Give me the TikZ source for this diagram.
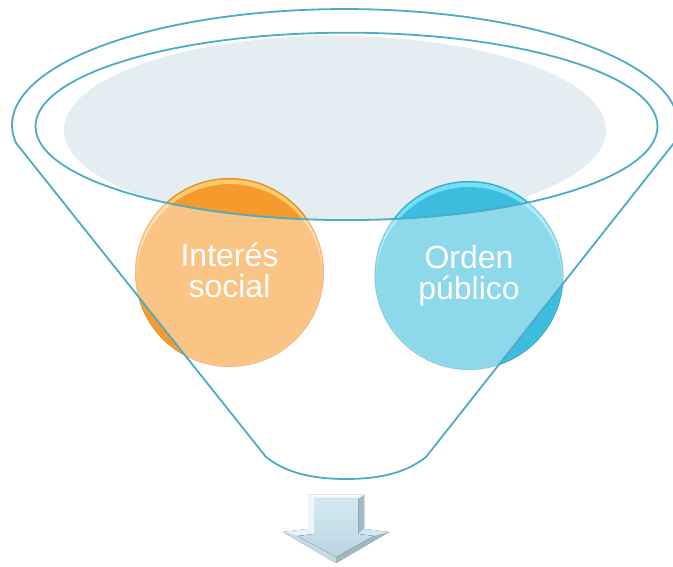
\documentclass[tikz,border=0pt]{standalone}
\usepackage{fontspec}
\setmainfont{Liberation Sans}
\usetikzlibrary{calc}
\definecolor{lineblue}{RGB}{75,172,198}
\definecolor{shadecol}{RGB}{228,237,242}
\definecolor{obase}{RGB}{247,154,46}
\definecolor{ohi}{RGB}{255,216,120}
\definecolor{bbase}{RGB}{60,189,222}
\definecolor{bhi}{RGB}{130,232,252}
\begin{document}
\begin{tikzpicture}[x=1pt,y=1pt,
  funnelline/.style={draw=lineblue,line width=1.8pt,line join=round},
  ball/.style={circle,minimum size=189pt,inner sep=0pt},
  balltext/.style={text=white,align=center,font=\fontsize{32}{31}\selectfont},
  face/.style={line width=0pt}]
\useasboundingbox (0,0) rectangle (673,567);
\coordinate (ic) at (346.5,440.6);
\coordinate (sc) at (335,437);
% shaded opening
\begin{scope}
\clip (ic) ellipse [x radius=311, y radius=93.7];
\fill[shadecol] (sc) ellipse [x radius=271, y radius=94];
\end{scope}
% circles
\node[ball,fill=obase] (ca) at (229.5,294.5) {};
\node[ball,fill=bbase] (cb) at (469,291.5) {};
\begin{scope}
\clip (ca) circle (93);
\fill[ohi,opacity=0.8,even odd rule] (ca) circle (93) ($(ca)+(0,-4.5)$) circle (93);
\end{scope}
\begin{scope}
\clip (cb) circle (93);
\fill[bhi,opacity=0.8,even odd rule] (cb) circle (93) ($(cb)+(0,-4.5)$) circle (93);
\end{scope}
\draw[obase!80!black,opacity=0.4,line width=1pt] (ca) circle (94);
\draw[bbase!75!black,opacity=0.4,line width=1pt] (cb) circle (94);
% funnel front face (translucent white)
\fill[white,fill opacity=0.42,even odd rule]
  (674,424) arc[start angle=-8.9,end angle=188.9,x radius=333,y radius=116]
  -- (266,110) .. controls (285,95) and (310,88) .. (346,88)
  .. controls (382,88) and (407,95) .. (426,110) -- cycle
  (ic) ellipse [x radius=311, y radius=93.7];
% funnel outlines
\draw[funnelline]
  (674,424) arc[start angle=-8.9,end angle=188.9,x radius=333,y radius=116]
  -- (266,110) .. controls (285,95) and (310,88) .. (346,88)
  .. controls (382,88) and (407,95) .. (426,110) -- cycle;
\draw[funnelline] (ic) ellipse [x radius=311, y radius=93.7];
% texts
\node[balltext] (ta) at (229.5,296.5) {Interés\\social};
\node[balltext] (tb) at (469,291.5) {Orden\\público};
% down arrow
\fill[top color={rgb,255:red,226;green,241;blue,247},bottom color={rgb,255:red,170;green,196;blue,208}]
  (308,72) -- (364,72) -- (364,38) -- (389,35) -- (336,4) -- (283,35) -- (308,38) -- cycle;
\fill[face,fill={rgb,255:red,242;green,249;blue,252}] (308,72) -- (364,72) -- (358,68) -- (314,68) -- cycle;
\fill[face,fill={rgb,255:red,236;green,246;blue,250}] (308,72) -- (314,68) -- (314,33) -- (308,38) -- cycle;
\fill[face,fill={rgb,255:red,160;green,186;blue,198}] (364,72) -- (358,68) -- (358,33) -- (364,38) -- cycle;
\fill[face,fill={rgb,255:red,232;green,243;blue,248}] (283,35) -- (308,38) -- (314,33) -- (298,31) -- cycle;
\fill[face,fill={rgb,255:red,214;green,232;blue,240}] (389,35) -- (364,38) -- (358,33) -- (374,31) -- cycle;
\fill[face,fill={rgb,255:red,196;green,218;blue,228}] (283,35) -- (298,31) -- (336,10) -- (336,4) -- cycle;
\fill[face,fill={rgb,255:red,160;green,184;blue,196}] (389,35) -- (374,31) -- (336,10) -- (336,4) -- cycle;
\fill[top color={rgb,255:red,212;green,234;blue,243},bottom color={rgb,255:red,186;green,212;blue,224}]
  (314,68) -- (358,68) -- (358,33) -- (374,31) -- (336,10) -- (298,31) -- (314,33) -- cycle;
\end{tikzpicture}
\end{document}
